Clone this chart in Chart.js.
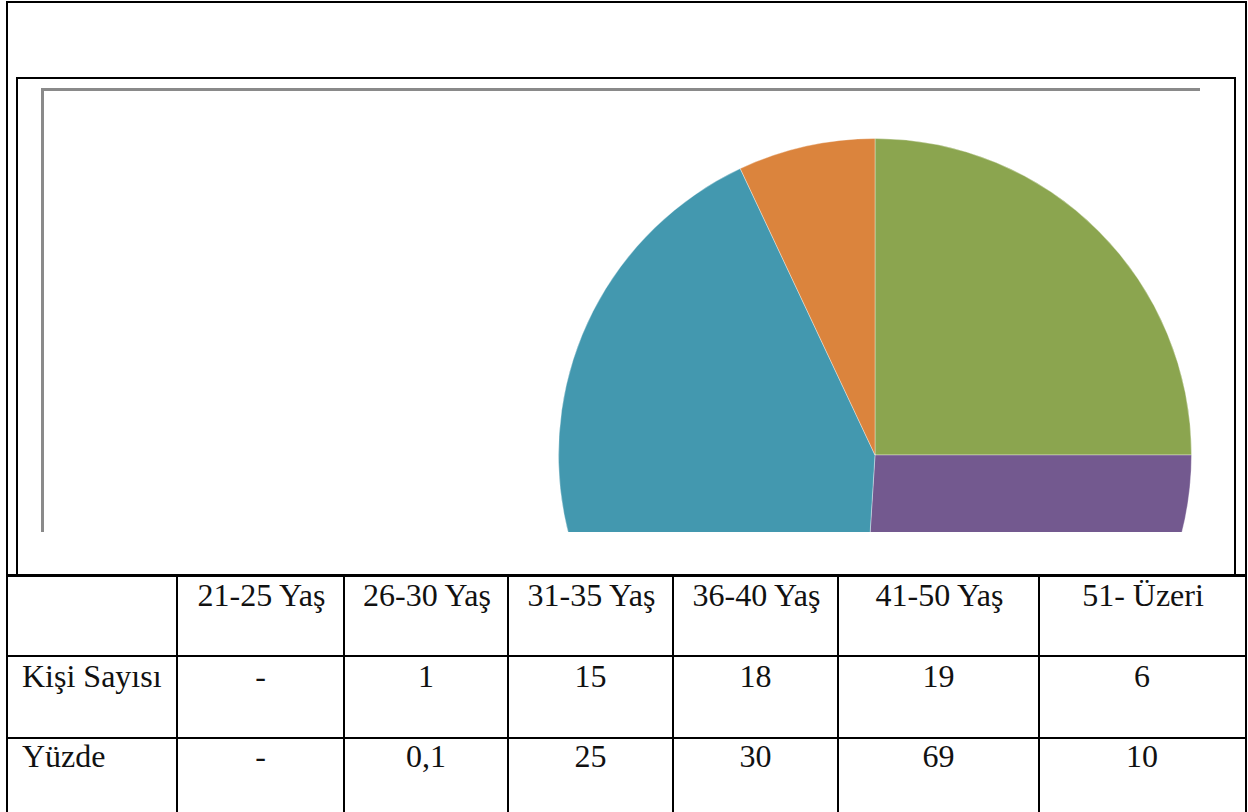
<!DOCTYPE html>
<html>
<head>
<meta charset="utf-8">
<script src="https://cdn.jsdelivr.net/npm/chart.js@4/dist/chart.umd.min.js"></script>
<style>
  html, body { margin: 0; padding: 0; background: #fff; }
  body { width: 1248px; height: 812px; position: relative; overflow: hidden; }
  .ln { position: absolute; background: #000; }
  .gl { position: absolute; background: #8a8a8a; }
  .t { position: absolute; font-family: "Liberation Serif", "Times New Roman", serif; font-size: 32px; color: #111; white-space: nowrap; line-height: 32px; }
  .c { transform: translateX(-50%); }
  #clip { position: absolute; left: 558px; top: 138px; width: 660px; height: 394px; overflow: hidden; }
  #pie { position: absolute; left: 0; top: 0; }
</style>
</head>
<body>
<!-- outer frame -->
<div class="ln" style="left:6px;top:1px;width:1241px;height:2px;"></div>
<div class="ln" style="left:6px;top:1px;width:2px;height:811px;"></div>
<div class="ln" style="left:1245px;top:1px;width:2px;height:811px;"></div>
<!-- chart frame -->
<div class="ln" style="left:16px;top:77px;width:1220px;height:2px;"></div>
<div class="ln" style="left:16px;top:77px;width:2px;height:498px;"></div>
<div class="ln" style="left:1234px;top:77px;width:2px;height:498px;"></div>
<!-- gray plot area edges -->
<div class="gl" style="left:41px;top:88px;width:1159px;height:3px;"></div>
<div class="gl" style="left:41px;top:88px;width:3px;height:444px;"></div>

<div id="clip"><canvas id="pie" width="634" height="634"></canvas></div>

<!-- table lines -->
<div class="ln" style="left:6px;top:574px;width:1241px;height:3px;"></div>
<div class="ln" style="left:6px;top:655px;width:1241px;height:2px;"></div>
<div class="ln" style="left:6px;top:737px;width:1241px;height:2px;"></div>
<div id="cols"></div>
<div id="txt"></div>

<script>
// ---- data ----
const categories = ["21-25 Yaş", "26-30 Yaş", "31-35 Yaş", "36-40 Yaş", "41-50 Yaş", "51- Üzeri"];
const kisiSayisi = ["-", "1", "15", "18", "19", "6"];
const yuzde = ["-", "0,1", "25", "30", "69", "10"];
const rowLabels = ["Kişi Sayısı", "Yüzde"];
// slice shares
const pieValues = [0, 0, 25, 26, 42, 7];
const sliceColors = ["#4F81BD", "#C0504D", "#8BA54F", "#73598F", "#4398AF", "#DB843D"];

// ---- table (layout) ----
const colEdges = [177, 344, 508, 673, 838, 1039];
const colRight = 1245;
const rowTextTop = [579, 660, 740];
const cols = document.getElementById('cols');
colEdges.forEach(x => {
  const d = document.createElement('div');
  d.className = 'ln';
  d.style.cssText = `left:${x - 1}px;top:576px;width:2px;height:236px;`;
  cols.appendChild(d);
});
const txt = document.getElementById('txt');
function addText(s, x, y, center) {
  const d = document.createElement('div');
  d.className = 't' + (center ? ' c' : '');
  d.style.left = x + 'px';
  d.style.top = y + 'px';
  d.textContent = s;
  txt.appendChild(d);
}
const centers = colEdges.map((x, i) => (x + (i < colEdges.length - 1 ? colEdges[i + 1] : colRight)) / 2);
categories.forEach((c, i) => addText(c, centers[i] + 1, rowTextTop[0], true));
addText(rowLabels[0], 22, rowTextTop[1], false);
addText(rowLabels[1], 22, rowTextTop[2], false);
kisiSayisi.forEach((v, i) => addText(v, centers[i], rowTextTop[1], true));
yuzde.forEach((v, i) => addText(v, centers[i], rowTextTop[2], true));

// ---- pie ----
new Chart(document.getElementById('pie'), {
  type: 'pie',
  data: {
    labels: categories,
    datasets: [{
      data: pieValues,
      backgroundColor: sliceColors,
      borderColor: 'rgba(255,255,255,0.35)',
      borderWidth: 1,
      hoverOffset: 0
    }]
  },
  options: {
    responsive: false,
    animation: false,
    devicePixelRatio: 1,
    layout: { padding: 0 },
    plugins: { legend: { display: false }, tooltip: { enabled: false } }
  }
});
</script>
</body>
</html>
